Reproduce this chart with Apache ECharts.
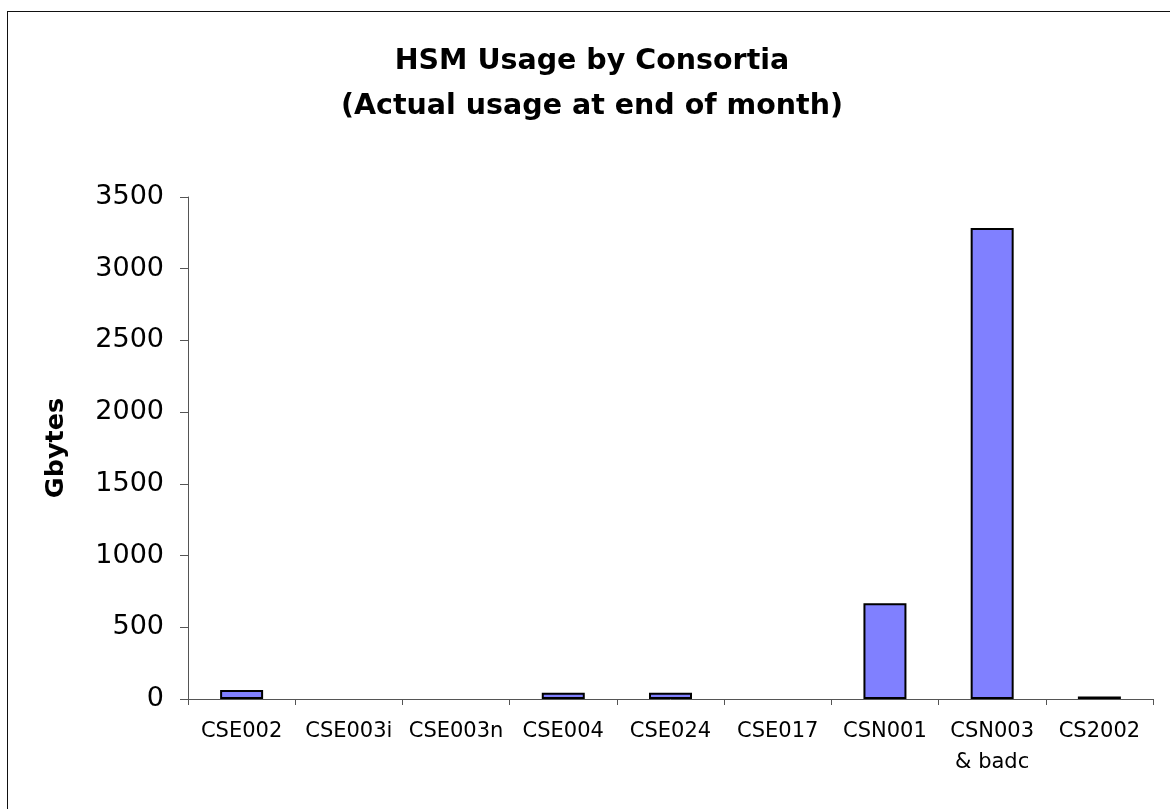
<!DOCTYPE html>
<html>
<head>
<meta charset="utf-8">
<script src="https://cdn.jsdelivr.net/npm/echarts@6/dist/echarts.min.js"></script>
<style>
  html, body { margin: 0; padding: 0; background: #fff; overflow: hidden; }
  #chart { width: 1170px; height: 809px; position: absolute; left: 0; top: 0; }
  #frame { position: absolute; left: 7px; top: 11px; width: 1200px; height: 900px;
           border-top: 1.5px solid #111; border-left: 1.5px solid #111; pointer-events: none; }
</style>
</head>
<body>
<div id="chart"></div>
<div id="frame"></div>
<script>
const titleLines = ['HSM Usage by Consortia', '(Actual usage at end of month)'];
const categories = ['CSE002', 'CSE003i', 'CSE003n', 'CSE004', 'CSE024', 'CSE017', 'CSN001', 'CSN003\n& badc', 'CS2002'];
const usageGB = [63, 0, 0, 44, 44, 0, 668, 3283, 18];
const yTicks = { min: 0, max: 3500, interval: 500 };
const yName = 'Gbytes';

const barData = usageGB.map(v => v === 0
  ? { value: v, itemStyle: { borderWidth: 0, opacity: 0 } }
  : { value: v });

const chart = echarts.init(document.getElementById('chart'), null, { renderer: 'canvas' });
chart.setOption({
  backgroundColor: '#ffffff',
  animation: false,
  title: {
    text: titleLines.join('\n'),
    left: 592,
    top: 39,
    textAlign: 'center',
    padding: 0,
    textStyle: {
      fontFamily: 'DejaVu Sans',
      fontWeight: 'bold',
      fontSize: 28.5,
      lineHeight: 45,
      color: '#000'
    }
  },
  grid: { left: 188, right: 17, top: 197, bottom: 110, containLabel: false },
  xAxis: {
    type: 'category',
    data: categories,
    axisLine: { lineStyle: { color: '#555', width: 1 } },
    axisTick: { show: true, length: 6, lineStyle: { color: '#555' } },
    axisLabel: {
      interval: 0,
      margin: 17,
      fontFamily: 'DejaVu Sans',
      fontSize: 21,
      lineHeight: 31,
      color: '#000'
    },
    splitLine: { show: false }
  },
  yAxis: {
    type: 'value',
    min: yTicks.min,
    max: yTicks.max,
    interval: yTicks.interval,
    name: yName,
    nameLocation: 'middle',
    nameGap: 119,
    nameRotate: 90,
    nameTextStyle: {
      fontFamily: 'DejaVu Sans',
      fontWeight: 'bold',
      fontSize: 25.5,
      color: '#000'
    },
    axisLine: { show: true, lineStyle: { color: '#555', width: 1 } },
    axisTick: { show: true, length: 8, lineStyle: { color: '#555' } },
    axisLabel: {
      margin: 24,
      fontFamily: 'DejaVu Sans',
      fontSize: 27,
      color: '#000',
      formatter: v => String(v)
    },
    splitLine: { show: false }
  },
  series: [{
    type: 'bar',
    data: barData,
    barWidth: 43,
    itemStyle: { color: '#8080FF', borderColor: '#000', borderWidth: 2 }
  }]
});
</script>
</body>
</html>
